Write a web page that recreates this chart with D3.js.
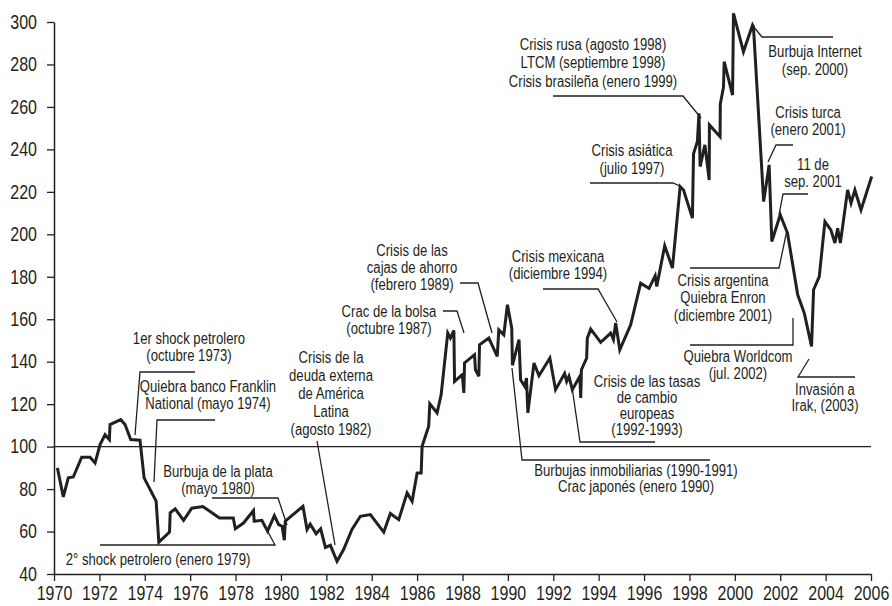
<!DOCTYPE html>
<html>
<head>
<meta charset="utf-8">
<script src="https://cdn.jsdelivr.net/npm/d3@7/dist/d3.min.js"></script>
<style>
  html, body { margin: 0; padding: 0; background: #fff; }
  svg { display: block; }
  text { font-family: "Liberation Sans", Arial, sans-serif; fill: #231f20; }
</style>
</head>
<body>
<svg id="chart" width="892" height="606"></svg>
<script>
// ---- data ----
const years = [
  1970.15, 1970.41, 1970.63, 1970.85, 1971.22, 1971.59, 1971.81, 1972.03, 1972.25, 1972.44,
  1972.47, 1972.94, 1973.13, 1973.38, 1973.79, 1973.97, 1974.50, 1974.62, 1975.09, 1975.12,
  1975.34, 1975.71, 1976.07, 1976.56, 1977.29, 1977.90, 1977.99, 1978.35, 1978.79, 1978.82,
  1979.16, 1979.41, 1979.71, 1979.90, 1980.05, 1980.15, 1980.19, 1980.97, 1981.15, 1981.29,
  1981.55, 1981.75, 1981.96, 1982.18, 1982.47, 1982.76, 1983.13, 1983.50, 1983.94, 1984.53,
  1984.82, 1985.19, 1985.56, 1985.78, 1986.00, 1986.18, 1986.22, 1986.51, 1986.56, 1986.88,
  1987.06, 1987.35, 1987.47, 1987.62, 1987.65, 1987.99, 1988.06, 1988.09, 1988.53, 1988.57,
  1988.72, 1988.75, 1989.16, 1989.53, 1989.60, 1989.82, 1989.98, 1990.17, 1990.20, 1990.49,
  1990.56, 1990.74, 1990.82, 1990.88, 1991.15, 1991.37, 1991.85, 1992.10, 1992.50, 1992.59,
  1992.69, 1992.84, 1993.17, 1993.21, 1993.24, 1993.47, 1993.50, 1993.65, 1994.09, 1994.53,
  1994.65, 1994.75, 1994.93, 1995.41, 1995.85, 1996.22, 1996.49, 1996.56, 1996.91, 1997.25,
  1997.59, 1997.74, 1998.13, 1998.18, 1998.35, 1998.42, 1998.47, 1998.68, 1998.87, 1998.88,
  1999.35, 1999.36, 1999.50, 1999.53, 1999.90, 1999.94, 2000.38, 2000.78, 2000.82, 2001.27,
  2001.51, 2001.63, 2002.00, 2002.32, 2002.77, 2003.06, 2003.38, 2003.47, 2003.72, 2003.97,
  2004.23, 2004.41, 2004.53, 2004.65, 2004.79, 2004.97, 2005.12, 2005.29, 2005.56, 2006.03
];
const values = [
  90.0, 76.3, 85.3, 85.7, 95.0, 95.0, 92.3, 101.0, 105.6, 103.3,
  110.4, 112.7, 110.4, 103.3, 103.0, 85.3, 74.3, 55.0, 59.7, 68.8,
  70.7, 65.3, 71.0, 71.8, 66.4, 66.4, 61.3, 64.0, 69.9, 64.9,
  65.3, 60.2, 67.5, 63.3, 62.5, 55.9, 64.9, 71.9, 61.0, 63.5,
  59.0, 61.3, 52.5, 53.5, 46.0, 51.5, 61.0, 67.2, 68.0, 59.7,
  68.5, 65.6, 78.2, 74.3, 87.6, 87.6, 100.2, 109.6, 120.2, 115.9,
  124.5, 153.5, 151.1, 154.7, 130.7, 133.9, 125.3, 139.4, 143.3, 136.2,
  133.1, 148.0, 151.1, 142.5, 155.0, 152.7, 166.8, 155.8, 138.3, 150.4,
  131.5, 128.4, 132.3, 115.9, 139.4, 133.4, 141.7, 126.8, 134.4, 130.7,
  133.1, 126.8, 133.1, 122.9, 136.2, 141.7, 151.1, 155.4, 149.1, 153.5,
  150.4, 158.2, 145.6, 157.4, 177.0, 174.5, 180.5, 175.4, 194.6, 184.1,
  222.5, 220.9, 207.6, 237.9, 243.7, 257.0, 231.9, 242.1, 225.6, 251.5,
  246.0, 261.4, 269.3, 281.3, 265.6, 304.1, 286.0, 298.6, 297.8, 215.4,
  232.7, 196.6, 209.2, 200.6, 171.5, 162.9, 147.2, 173.9, 180.1, 206.0,
  202.1, 195.9, 202.9, 195.9, 206.8, 220.9, 214.7, 220.9, 211.5, 227.2
];
const yTicks = [40, 60, 80, 100, 120, 140, 160, 180, 200, 220, 240, 260, 280, 300];
const xTicks = [1970, 1972, 1974, 1976, 1978, 1980, 1982, 1984, 1986, 1988, 1990,
                1992, 1994, 1996, 1998, 2000, 2002, 2004, 2006];
const baseline = 100;

// ---- annotation layout (text + leader lines, in page pixels) ----
const annotations = [
  { lines: ["1er shock petrolero", "(octubre 1973)"], x: 189, y: [344, 361],
    leader: [[195, 372], [140, 372], [135, 435]] },
  { lines: ["Quiebra banco Franklin", "National (mayo 1974)"], x: 208, y: [392, 409],
    leader: [[215, 420], [157, 420], [154, 482]] },
  { lines: ["Burbuja de la plata", "(mayo  1980)"], x: 218, y: [477, 494],
    leader: [[212, 498], [278, 498], [287, 525]] },
  { lines: ["2° shock petrolero (enero 1979)"], x: 158, y: [565],
    leader: [[100, 545], [275, 545], [267, 530]] },
  { lines: ["Crisis de la", "deuda externa", "de América", "Latina", "(agosto 1982)"], x: 331,
    y: [363, 381, 399, 417, 435],
    leader: [[317, 441], [335, 545]] },
  { lines: ["Crac de la bolsa", "(octubre 1987)"], x: 389, y: [317, 334],
    leader: [[443, 311], [457, 311], [464, 333]] },
  { lines: ["Crisis de las", "cajas de ahorro", "(febrero 1989)"], x: 412, y: [256, 273, 290],
    leader: [[460, 283], [478, 283], [492, 333]] },
  { lines: ["Crisis mexicana", "(diciembre 1994)"], x: 558, y: [262, 279],
    leader: [[543, 289], [598, 289], [617, 322]] },
  { lines: ["Crisis asiática", "(julio 1997)"], x: 632, y: [156, 174],
    leader: [[590, 183], [673, 183], [682, 187]] },
  { lines: ["Crisis rusa (agosto 1998)", "LTCM (septiembre 1998)", "Crisis brasileña (enero 1999)"],
    x: 593, y: [50, 68, 87],
    leader: [[553, 96], [683, 96], [701, 118]] },
  { lines: ["Burbuja Internet", "(sep. 2000)"], x: 815, y: [57, 75],
    leader: [[753, 26], [762, 37], [833, 37]] },
  { lines: ["Crisis turca", "(enero 2001)"], x: 808, y: [118, 135],
    leader: [[793, 145], [776, 145], [768, 162]] },
  { lines: ["11 de", "sep. 2001"], x: 813, y: [170, 187],
    leader: [[808, 194], [783, 194], [779, 215]] },
  { lines: ["Crisis argentina", "Quiebra Enron", "(diciembre 2001)"], x: 723, y: [286, 303, 321],
    leader: [[690, 268], [779, 268], [787, 230]] },
  { lines: ["Quiebra Worldcom", "(jul. 2002)"], x: 738, y: [362, 379],
    leader: [[690, 345], [793, 345], [793, 318]] },
  { lines: ["Invasión a", "Irak, (2003)"], x: 825, y: [395, 411],
    leader: [[855, 377], [798, 377], [809, 359]] },
  { lines: ["Crisis de las tasas", "de cambio", "europeas", "(1992-1993)"], x: 647,
    y: [387, 403, 419, 435],
    leader: [[572, 387], [580, 442], [655, 442]] },
  { lines: ["Burbujas inmobiliarias (1990-1991)", "Crac japonés (enero 1990)"], x: 636,
    y: [476, 492],
    leader: [[512, 368], [522, 460], [710, 460]] }
];

// ---- drawing ----
const svg = d3.select("#chart");
const ink = "#231f20";
const squeeze = 0.82;   // horizontal compression to imitate the condensed typeface

const x = d3.scaleLinear().domain([1970, 2006]).range([54, 871]);
const y = d3.scaleLinear().domain([40, 300]).range([574, 22]);

// reference line at 100
svg.append("line")
  .attr("x1", x(1970)).attr("x2", x(2006))
  .attr("y1", y(baseline)).attr("y2", y(baseline))
  .attr("stroke", ink).attr("stroke-width", 1.3);

// axes
const yAxis = svg.append("g")
  .attr("transform", `translate(${x(1970)},0)`)
  .call(d3.axisLeft(y).tickValues(yTicks).tickSize(7).tickSizeOuter(0).tickPadding(9));
const xAxis = svg.append("g")
  .attr("transform", `translate(0,${y(40)})`)
  .call(d3.axisBottom(x).tickValues(xTicks).tickFormat(d3.format("d")).tickSize(7).tickSizeOuter(0).tickPadding(5));

[yAxis, xAxis].forEach(g => {
  g.select(".domain").attr("stroke", ink).attr("stroke-width", 1.5);
  g.selectAll(".tick line").attr("stroke", ink).attr("stroke-width", 1.3);
  g.selectAll(".tick text").attr("fill", ink).style("font-size", "19.5px")
    .style("font-family", '"Liberation Sans", Arial, sans-serif')
    .attr("transform", `scale(${squeeze},1)`);
});
yAxis.selectAll(".tick text").attr("x", -17 / squeeze);

// leader lines
const leaderLine = d3.line();
svg.append("g").selectAll("path")
  .data(annotations)
  .join("path")
  .attr("d", d => leaderLine(d.leader))
  .attr("fill", "none")
  .attr("stroke", ink)
  .attr("stroke-width", 1.3);

// annotation text
const labels = svg.append("g").selectAll("text")
  .data(annotations)
  .join("text")
  .attr("text-anchor", "middle")
  .attr("transform", d => `translate(${d.x},0) scale(${squeeze},1)`)
  .style("font-size", "16px");
labels.selectAll("tspan")
  .data(d => d.lines.map((t, i) => ({ t, y: d.y[i] })))
  .join("tspan")
  .attr("x", 0)
  .attr("y", d => d.y)
  .text(d => d.t);

// main series
const pts = years.map((yr, i) => [yr, values[i]]);
svg.append("path")
  .datum(pts)
  .attr("d", d3.line().x(d => x(d[0])).y(d => y(d[1])))
  .attr("fill", "none")
  .attr("stroke", ink)
  .attr("stroke-width", 3)
  .attr("stroke-linejoin", "miter")
  .attr("stroke-miterlimit", 4);
</script>
</body>
</html>
